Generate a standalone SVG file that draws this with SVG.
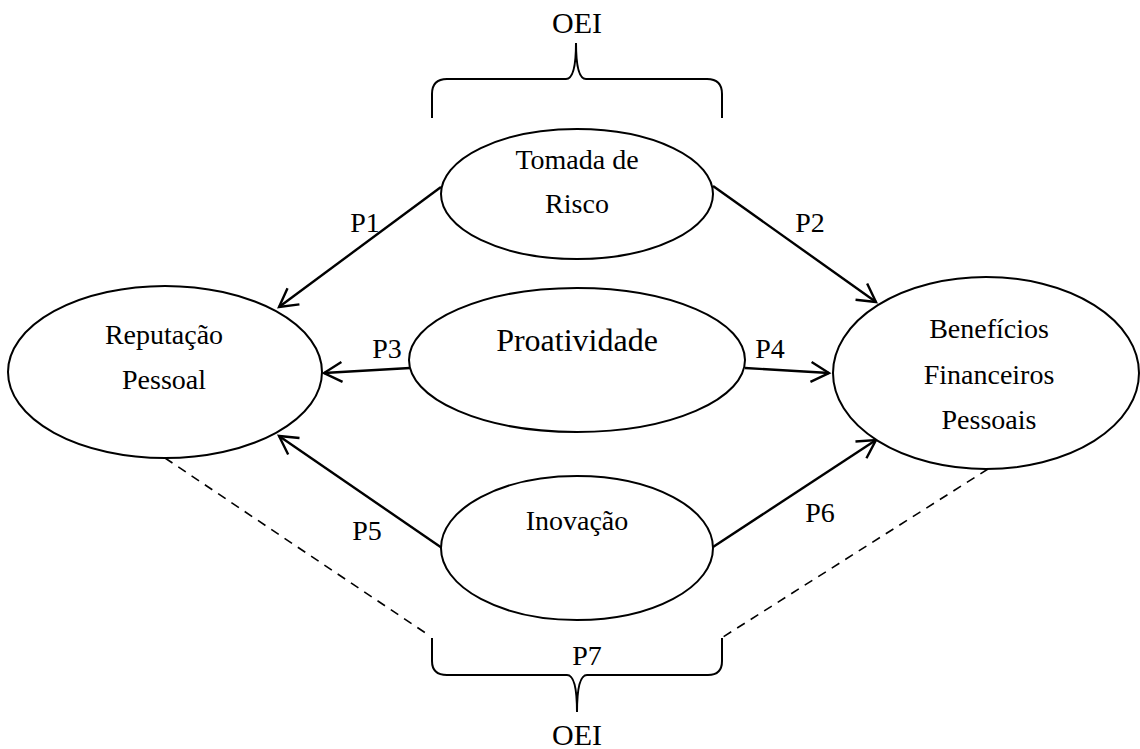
<svg xmlns="http://www.w3.org/2000/svg" width="1140" height="749" viewBox="0 0 1140 749">
  <style>
    .node { fill: #ffffff; stroke: #000000; stroke-width: 2; }
    .lbl { font-family: "Liberation Serif", "DejaVu Serif", serif; font-size: 28px; fill: #000000; text-anchor: middle; }
    .head { font-size: 30px; }
    .big { font-size: 32px; }
    .plabel { font-family: "Liberation Serif", "DejaVu Serif", serif; font-size: 28px; fill: #000000; text-anchor: middle; }
    .arrow { fill: none; stroke: #000000; stroke-width: 2.4; marker-end: url(#open); }
    .dash { fill: none; stroke: #000000; stroke-width: 1.6; stroke-dasharray: 9 7; }
    .brace { fill: none; stroke: #000000; stroke-width: 2; }
  </style>
  <defs>
    <marker id="open" markerUnits="userSpaceOnUse" viewBox="-22 -12 26 24" refX="0" refY="0" markerWidth="26" markerHeight="24" orient="auto">
      <path d="M-18,-10 L0,0 L-18,10" fill="none" stroke="#000000" stroke-width="2.4"/>
    </marker>
  </defs>
  <rect width="1140" height="749" fill="#ffffff"/>

  <!-- connectors -->
  <g id="connectors">
    <line class="arrow" x1="441" y1="187" x2="279" y2="307"/>
    <line class="arrow" x1="713" y1="186" x2="876" y2="302"/>
    <line class="arrow" x1="410" y1="368" x2="324" y2="373"/>
    <line class="arrow" x1="745" y1="368" x2="829" y2="373"/>
    <line class="arrow" x1="442" y1="548" x2="279" y2="436"/>
    <line class="arrow" x1="713" y1="547" x2="876" y2="440"/>
    <line class="dash" x1="165" y1="458" x2="430" y2="636"/>
    <line class="dash" x1="988" y1="469" x2="723" y2="637"/>
    <text class="plabel" x="365" y="232">P1</text>
    <text class="plabel" x="810" y="232">P2</text>
    <text class="plabel" x="387" y="358">P3</text>
    <text class="plabel" x="770" y="358">P4</text>
    <text class="plabel" x="367" y="540">P5</text>
    <text class="plabel" x="820" y="522">P6</text>
  </g>

  <!-- upper grouping brace -->
  <g id="oei-top">
    <path class="brace" d="M432,118 L432,94 Q432,79 447,79 L566,79 Q576,79 576,43 Q576,79 586,79 L707,79 Q722,79 722,94 L722,118"/>
    <text class="lbl head" x="577" y="33">OEI</text>
  </g>

  <!-- lower grouping brace -->
  <g id="oei-bottom">
    <path class="brace" d="M432,638 L432,661 Q432,675 447,675 L567,675 Q577,675 577,712 Q577,675 587,675 L708,675 Q722,675 722,661 L722,638"/>
    <text class="plabel" x="587" y="665">P7</text>
    <text class="lbl head" x="577" y="745">OEI</text>
  </g>

  <g id="tomada-de-risco">
    <ellipse class="node" cx="577" cy="194" rx="136" ry="65"/>
    <text class="lbl" x="577" y="169">Tomada de</text>
    <text class="lbl" x="577" y="213">Risco</text>
  </g>

  <g id="reputacao-pessoal">
    <ellipse class="node" cx="165" cy="372" rx="157" ry="86"/>
    <text class="lbl" x="164" y="344">Reputação</text>
    <text class="lbl" x="164" y="389">Pessoal</text>
  </g>

  <g id="proatividade">
    <ellipse class="node" cx="577" cy="360" rx="168" ry="72"/>
    <text class="lbl big" x="577" y="351">Proatividade</text>
  </g>

  <g id="beneficios">
    <ellipse class="node" cx="986" cy="373" rx="153" ry="96"/>
    <text class="lbl" x="989" y="338">Benefícios</text>
    <text class="lbl" x="989" y="384">Financeiros</text>
    <text class="lbl" x="989" y="429">Pessoais</text>
  </g>

  <g id="inovacao">
    <ellipse class="node" cx="577" cy="548" rx="136" ry="72"/>
    <text class="lbl" x="577" y="530">Inovação</text>
  </g>
</svg>
